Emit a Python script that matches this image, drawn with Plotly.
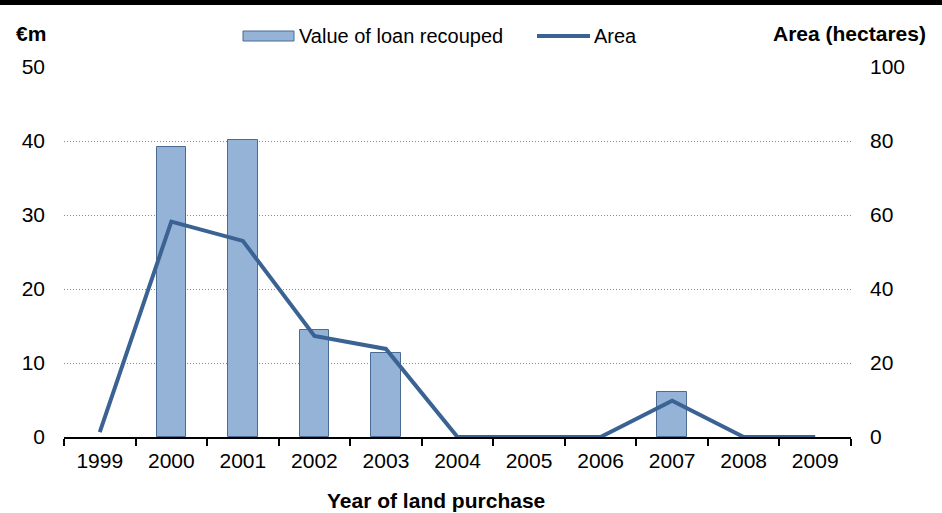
import plotly.graph_objects as go

years = ["1999", "2000", "2001", "2002", "2003", "2004", "2005", "2006", "2007", "2008", "2009"]
loan_recouped = [0, 39.2, 40.2, 14.4, 11.4, 0, 0, 0, 6.1, 0, 0]   # €m
area_hectares = [1.3, 58.2, 53.0, 27.3, 23.8, 0, 0, 0, 9.8, 0, 0]

W, H = 942, 513
L, R, T, B = 64, 91, 67, 76
pw, ph = W - L - R, H - T - B

BAR_FILL = "#95B3D7"
BAR_EDGE = "#4A6B93"
LINE_COL = "#3A6394"
FONT = "Liberation Sans, Arial, sans-serif"

def px_x(x):
    return (x - L) / pw

def px_y(y):
    return (H - B - y) / ph

# no outline for empty years, so nothing is drawn there
edge_widths = [1 if v > 0 else 0 for v in loan_recouped]

fig = go.Figure()
fig.add_trace(go.Bar(
    x=years, y=loan_recouped, name="Value of loan recouped",
    marker=dict(color=BAR_FILL, line=dict(color=BAR_EDGE, width=edge_widths)),
    width=0.41, yaxis="y", showlegend=False,
))
fig.add_trace(go.Scatter(
    x=years, y=area_hectares, name="Area", mode="lines",
    line=dict(color=LINE_COL, width=4), yaxis="y2", showlegend=False,
))

shapes = [
    # heavy rule across the top
    dict(type="rect", xref="paper", yref="paper",
         x0=px_x(0), x1=px_x(W), y0=px_y(5), y1=px_y(0),
         fillcolor="black", line=dict(width=0), layer="above"),
    # legend swatches
    dict(type="rect", xref="paper", yref="paper",
         x0=px_x(243), x1=px_x(294), y0=px_y(41), y1=px_y(31),
         fillcolor=BAR_FILL, line=dict(color=BAR_EDGE, width=1)),
    dict(type="line", xref="paper", yref="paper",
         x0=px_x(537), x1=px_x(590), y0=px_y(36), y1=px_y(36),
         line=dict(color=LINE_COL, width=4)),
]

annotations = [
    dict(text="Value of loan recouped", x=px_x(297), y=px_y(36), xanchor="left", yanchor="middle",
         xref="paper", yref="paper", showarrow=False, font=dict(size=20, color="black", family=FONT)),
    dict(text="Area", x=px_x(592), y=px_y(36), xanchor="left", yanchor="middle",
         xref="paper", yref="paper", showarrow=False, font=dict(size=20, color="black", family=FONT)),
    dict(text="<b>€m</b>", x=px_x(14), y=px_y(33), xanchor="left", yanchor="middle",
         xref="paper", yref="paper", showarrow=False, font=dict(size=21, color="black", family=FONT)),
    dict(text="<b>Area (hectares)</b>", x=px_x(928), y=px_y(33), xanchor="right", yanchor="middle",
         xref="paper", yref="paper", showarrow=False, font=dict(size=21, color="black", family=FONT)),
    dict(text="<b>Year of land purchase</b>", x=px_x(436), y=px_y(500), xanchor="center", yanchor="middle",
         xref="paper", yref="paper", showarrow=False, font=dict(size=21, color="black", family=FONT)),
]

fig.update_layout(
    width=W, height=H,
    margin=dict(l=L, r=R, t=T, b=B, pad=0),
    paper_bgcolor="white", plot_bgcolor="white",
    font=dict(family=FONT, size=21, color="black"),
    showlegend=False,
    bargap=0,
    xaxis=dict(
        type="category", range=[-0.5, 10.5],
        showline=True, linecolor="black", linewidth=2,
        ticks="outside", tickson="boundaries", ticklen=7, tickwidth=2, tickcolor="black",
        showgrid=False, zeroline=False, layer="below traces",
        tickfont=dict(size=21), ticklabelstandoff=4,
    ),
    yaxis=dict(
        range=[0, 50], dtick=10, showline=False, zeroline=False,
        showgrid=True, gridcolor="#8a8a8a", griddash="1px,2px", gridwidth=1,
        tickfont=dict(size=21), ticklabelstandoff=18, ticks="",
    ),
    yaxis2=dict(
        range=[0, 100], dtick=20, overlaying="y", side="right",
        showline=False, zeroline=False, showgrid=False,
        tickfont=dict(size=21), ticklabelstandoff=18, ticks="",
    ),
    shapes=shapes,
    annotations=annotations,
)

fig.write_html("out.html")
